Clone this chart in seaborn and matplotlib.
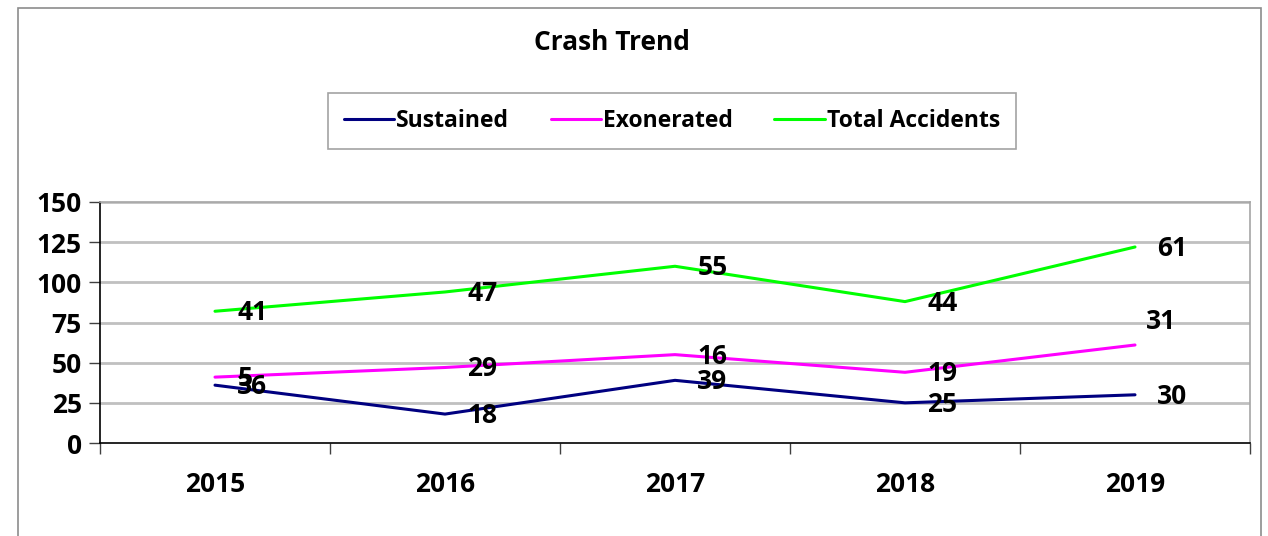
import numpy as np
import pandas as pd
import matplotlib
matplotlib.use("Agg")
import matplotlib.pyplot as plt
import seaborn as sns
from matplotlib.patches import Rectangle

years = ["2015", "2016", "2017", "2018", "2019"]
sustained = [36, 18, 39, 25, 30]
exonerated = [5, 29, 16, 19, 31]
total_accidents = [41, 47, 55, 44, 61]
series_names = ["Sustained", "Exonerated", "Total Accidents"]
colors = ["#000080", "#FF00FF", "#00FF00"]
y_ticks = [0, 25, 50, 75, 100, 125, 150]

sns.set_theme(style="white")
plt.rcParams["font.family"] = ["Open Sans", "DejaVu Sans"]
plt.rcParams["font.weight"] = "bold"
plt.rcParams["text.color"] = "black"
plt.rcParams["xtick.color"] = "black"
plt.rcParams["ytick.color"] = "black"

# stacked line chart: each line sits on top of the previous one
raw = np.array([sustained, exonerated, total_accidents], dtype=float)
stacked = np.cumsum(raw, axis=0)

rows = []
for s, name in enumerate(series_names):
    for i, yr in enumerate(years):
        rows.append({"x": i, "year": yr, "series": name,
                     "value": stacked[s, i], "label": int(raw[s, i])})
df = pd.DataFrame(rows)

fig = plt.figure(figsize=(12.68, 5.36), dpi=100)
fig.patches.append(Rectangle((18 / 1268, -0.1), (1261 - 18) / 1268, 1.1 - 8 / 536,
                             transform=fig.transFigure, fill=False,
                             edgecolor="#8c8c8c", linewidth=1.2))
ax = fig.add_axes([100 / 1268, 93 / 536, 1150 / 1268, 241 / 536])

sns.lineplot(data=df, x="x", y="value", hue="series", palette=colors,
             hue_order=series_names, linewidth=2.2, ax=ax, legend=True)

# data labels, placed to the right of each point
for s, name in enumerate(series_names):
    sub = df[df["series"] == name]
    for _, r in sub.iterrows():
        dx, dy = 16, -1
        if name == "Exonerated" and r["x"] == 4:
            dx, dy = 8, 17
        ax.annotate(str(r["label"]), (r["x"], r["value"]),
                    xytext=(dx, dy), textcoords="offset points",
                    ha="left", va="center", fontsize=19, fontweight="bold",
                    color="black")

ax.set_xlim(-0.5, 4.5)
ax.set_ylim(0, 150)
ax.set_yticks(y_ticks)
ax.set_yticklabels([str(t) for t in y_ticks], fontsize=19, fontweight="bold")
ax.set_xticks(np.arange(-0.5, 5, 1))
ax.set_xticklabels([])
ax.set_xticks(range(len(years)), minor=True)
ax.set_xticklabels(years, minor=True, fontsize=19, fontweight="bold")
ax.tick_params(axis="x", which="major", direction="out", length=8, width=1,
               color="#404040", bottom=True)
ax.tick_params(axis="x", which="minor", length=0, pad=20)
ax.tick_params(axis="y", direction="out", length=8, width=1, color="#404040",
               left=True, pad=5)
ax.set_xlabel("")
ax.set_ylabel("")

for t in y_ticks[1:]:
    ax.axhline(t, color="#c0c0c0", linewidth=2, zorder=0)
for side in ["top", "right"]:
    ax.spines[side].set_color("#a6a6a6")
    ax.spines[side].set_linewidth(1.2)
for side in ["left", "bottom"]:
    ax.spines[side].set_color("black")
    ax.spines[side].set_linewidth(1.2)

handles, labels = ax.get_legend_handles_labels()
leg = fig.legend(handles, labels, loc="center", ncol=3,
                 bbox_to_anchor=(672 / 1268, 1 - 121 / 536),
                 frameon=True, fancybox=False, edgecolor="#8c8c8c",
                 prop={"size": 16.5, "weight": "bold"}, handlelength=2.2,
                 handletextpad=0.1, columnspacing=1.8,
                 borderpad=0.7, labelcolor="black")
leg.get_frame().set_linewidth(1.2)
ax.get_legend().remove() if ax.get_legend() else None
for h in leg.get_lines():
    h.set_linewidth(2.2)

fig.text(612 / 1268, 1 - 42 / 536, "Crash Trend", ha="center", va="center",
         fontsize=19, fontweight="bold", color="black")

fig.savefig("out.png", dpi=100)
